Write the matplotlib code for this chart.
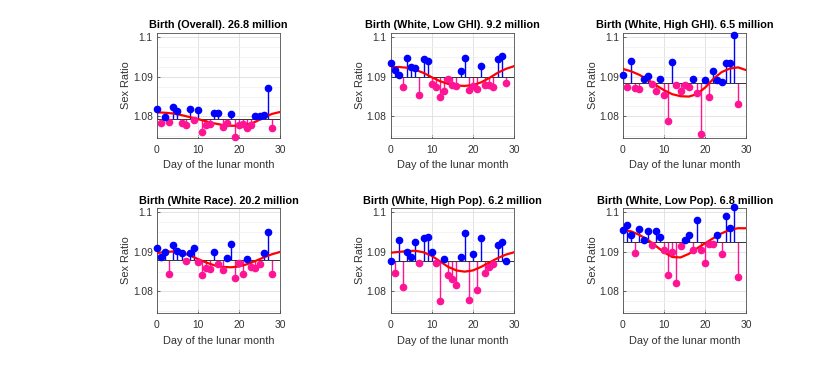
import matplotlib
matplotlib.use("Agg")
import matplotlib.pyplot as plt
from matplotlib.ticker import MultipleLocator

plt.rcParams['font.family'] = ['Liberation Sans', 'DejaVu Sans']

# Tag des Mondmonats
days = list(range(29))
curve_days = list(range(0, 31, 2))

titles = ['Birth (Overall). 26.8 million',
          'Birth (White, Low GHI). 9.2 million',
          'Birth (White, High GHI). 6.5 million',
          'Birth (White Race). 20.2 million',
          'Birth (White, High Pop). 6.2 million',
          'Birth (White, Low Pop). 6.8 million']

# Geschlechterverhaeltnis pro Tag
overall = [1.0819, 1.0783, 1.0797, 1.0785, 1.0823, 1.0814, 1.0783, 1.0778, 1.0819, 1.0790,
           1.0817, 1.0759, 1.0778, 1.0780, 1.0808, 1.0808, 1.0774, 1.0783, 1.0806, 1.0748,
           1.0777, 1.0781, 1.0771, 1.0779, 1.0801, 1.0801, 1.0803, 1.0871, 1.0771]
low_ghi = [1.0934, 1.0917, 1.0905, 1.0874, 1.0947, 1.0925, 1.0922, 1.0854, 1.0945, 1.0941,
           1.0883, 1.0874, 1.0849, 1.0865, 1.0894, 1.0880, 1.0876, 1.0916, 1.0949, 1.0866,
           1.0877, 1.0870, 1.0928, 1.0879, 1.0880, 1.0873, 1.0944, 1.0954, 1.0885]
high_ghi = [1.0905, 1.0874, 1.0940, 1.0872, 1.0868, 1.0895, 1.0901, 1.0882, 1.0864, 1.0894,
            1.0855, 1.0789, 1.0937, 1.0880, 1.0865, 1.0879, 1.0875, 1.0894, 1.0859, 1.0754,
            1.0892, 1.0849, 1.0914, 1.0892, 1.0886, 1.0935, 1.0934, 1.1007, 1.0832]
white_race = [1.0909, 1.0887, 1.0901, 1.0845, 1.0917, 1.0902, 1.0898, 1.0876, 1.0896, 1.0909,
              1.0875, 1.0842, 1.0858, 1.0856, 1.0899, 1.0870, 1.0855, 1.0884, 1.0919, 1.0834,
              1.0873, 1.0845, 1.0882, 1.0861, 1.0859, 1.0870, 1.0898, 1.0950, 1.0845]
high_pop = [1.0878, 1.0846, 1.0929, 1.0810, 1.0899, 1.0888, 1.0924, 1.0873, 1.0935, 1.0939,
            1.0901, 1.0873, 1.0775, 1.0881, 1.0842, 1.0831, 1.0816, 1.0888, 1.0949, 1.0779,
            1.0894, 1.0803, 1.0934, 1.0847, 1.0862, 1.0869, 1.0918, 1.0925, 1.0878]
low_pop = [1.0955, 1.0967, 1.0944, 1.0897, 1.0958, 1.0931, 1.0954, 1.0917, 1.0954, 1.0937,
           1.0904, 1.0842, 1.0899, 1.0821, 1.0915, 1.0929, 1.0942, 1.0906, 1.0982, 1.0906,
           1.0871, 1.0921, 1.0921, 1.0942, 1.0895, 1.0990, 1.0960, 1.1015, 1.0837]

# Mittelwert (Grundlinie der Stiele)
baselines = [1.0794, 1.0900, 1.0884, 1.0880, 1.0876, 1.0926]

fit_overall = [1.0810, 1.0809, 1.0807, 1.0803, 1.0798, 1.0793, 1.0787, 1.0782,
               1.0778, 1.0776, 1.0776, 1.0779, 1.0786, 1.0797, 1.0806, 1.0811]
fit_low_ghi = [1.0924, 1.0925, 1.0923, 1.0918, 1.0910, 1.0899, 1.0889, 1.0882,
               1.0878, 1.0877, 1.0879, 1.0886, 1.0897, 1.0910, 1.0920, 1.0927]
fit_high_ghi = [1.0920, 1.0914, 1.0905, 1.0893, 1.0879, 1.0866, 1.0856, 1.0851,
                1.0850, 1.0856, 1.0873, 1.0895, 1.0912, 1.0921, 1.0924, 1.0917]
fit_white_race = [1.0897, 1.0900, 1.0901, 1.0898, 1.0891, 1.0882, 1.0873, 1.0866,
                  1.0862, 1.0861, 1.0863, 1.0869, 1.0877, 1.0886, 1.0894, 1.0900]
fit_high_pop = [1.0898, 1.0900, 1.0902, 1.0903, 1.0899, 1.0890, 1.0876, 1.0862,
                1.0853, 1.0850, 1.0853, 1.0862, 1.0873, 1.0884, 1.0893, 1.0899]
fit_low_pop = [1.0956, 1.0952, 1.0943, 1.0931, 1.0915, 1.0899, 1.0887, 1.0886,
               1.0895, 1.0909, 1.0922, 1.0935, 1.0947, 1.0956, 1.0960, 1.0960]

series = [overall, low_ghi, high_ghi, white_race, high_pop, low_pop]
fits = [fit_overall, fit_low_ghi, fit_high_ghi, fit_white_race, fit_high_pop, fit_low_pop]

blue = '#0000ff'
pink = '#ff1493'
axis_grey = '0.3'

fig = plt.figure(figsize=(8.3, 3.67), dpi=100)
lefts = [0.189, 0.4707, 0.7506]
bottoms = [0.624, 0.147]
w, h = 0.1485, 0.287

for i in range(6):
    ax = fig.add_axes([lefts[i % 3], bottoms[i // 3], w, h])
    vals = series[i]
    base = baselines[i]

    ax.yaxis.set_minor_locator(MultipleLocator(0.0025))
    ax.grid(True, which='major', color='0.87', lw=0.6)
    ax.grid(True, which='minor', axis='y', color='0.94', lw=0.5)
    ax.set_axisbelow(True)

    # oberhalb (blau) und unterhalb (pink) des Mittelwerts
    up_x = [d for d, v in zip(days, vals) if v >= base]
    up_y = [v for v in vals if v >= base]
    dn_x = [d for d, v in zip(days, vals) if v < base]
    dn_y = [v for v in vals if v < base]

    ax.vlines(dn_x, base, dn_y, color=pink, lw=1.0, zorder=2)
    ax.vlines(up_x, base, up_y, color=blue, lw=1.0, zorder=2)
    ax.axhline(base, color='0.2', lw=0.7, zorder=2)
    ax.plot(curve_days, fits[i], color='red', lw=1.6, zorder=3)
    ax.plot(dn_x, dn_y, 'o', color=pink, ms=4.5, zorder=4, clip_on=False)
    ax.plot(up_x, up_y, 'o', color=blue, ms=4.5, zorder=4, clip_on=False)

    ax.set_xlim(0, 30)
    ax.set_ylim(1.0745, 1.1012)
    ax.set_xticks([0, 10, 20, 30])
    ax.set_yticks([1.08, 1.09, 1.1])
    ax.set_yticklabels(['1.08', '1.09', '1.1'])
    ax.tick_params(direction='in', length=2.5, width=0.6, colors=axis_grey,
                   labelsize=7.4, labelcolor='0.2')
    ax.tick_params(axis='x', pad=5)
    ax.tick_params(axis='y', pad=3)
    ax.tick_params(which='minor', length=0)
    for s in ax.spines.values():
        s.set_color(axis_grey)
        s.set_linewidth(0.6)

    ax.set_title(titles[i], fontsize=7.8, fontweight='bold', pad=3)
    ax.set_xlabel('Day of the lunar month', fontsize=7.9, color='0.2', labelpad=4)
    ax.set_ylabel('Sex Ratio', fontsize=7.9, color='0.2', labelpad=1)

plt.savefig('out.png', dpi=100)
